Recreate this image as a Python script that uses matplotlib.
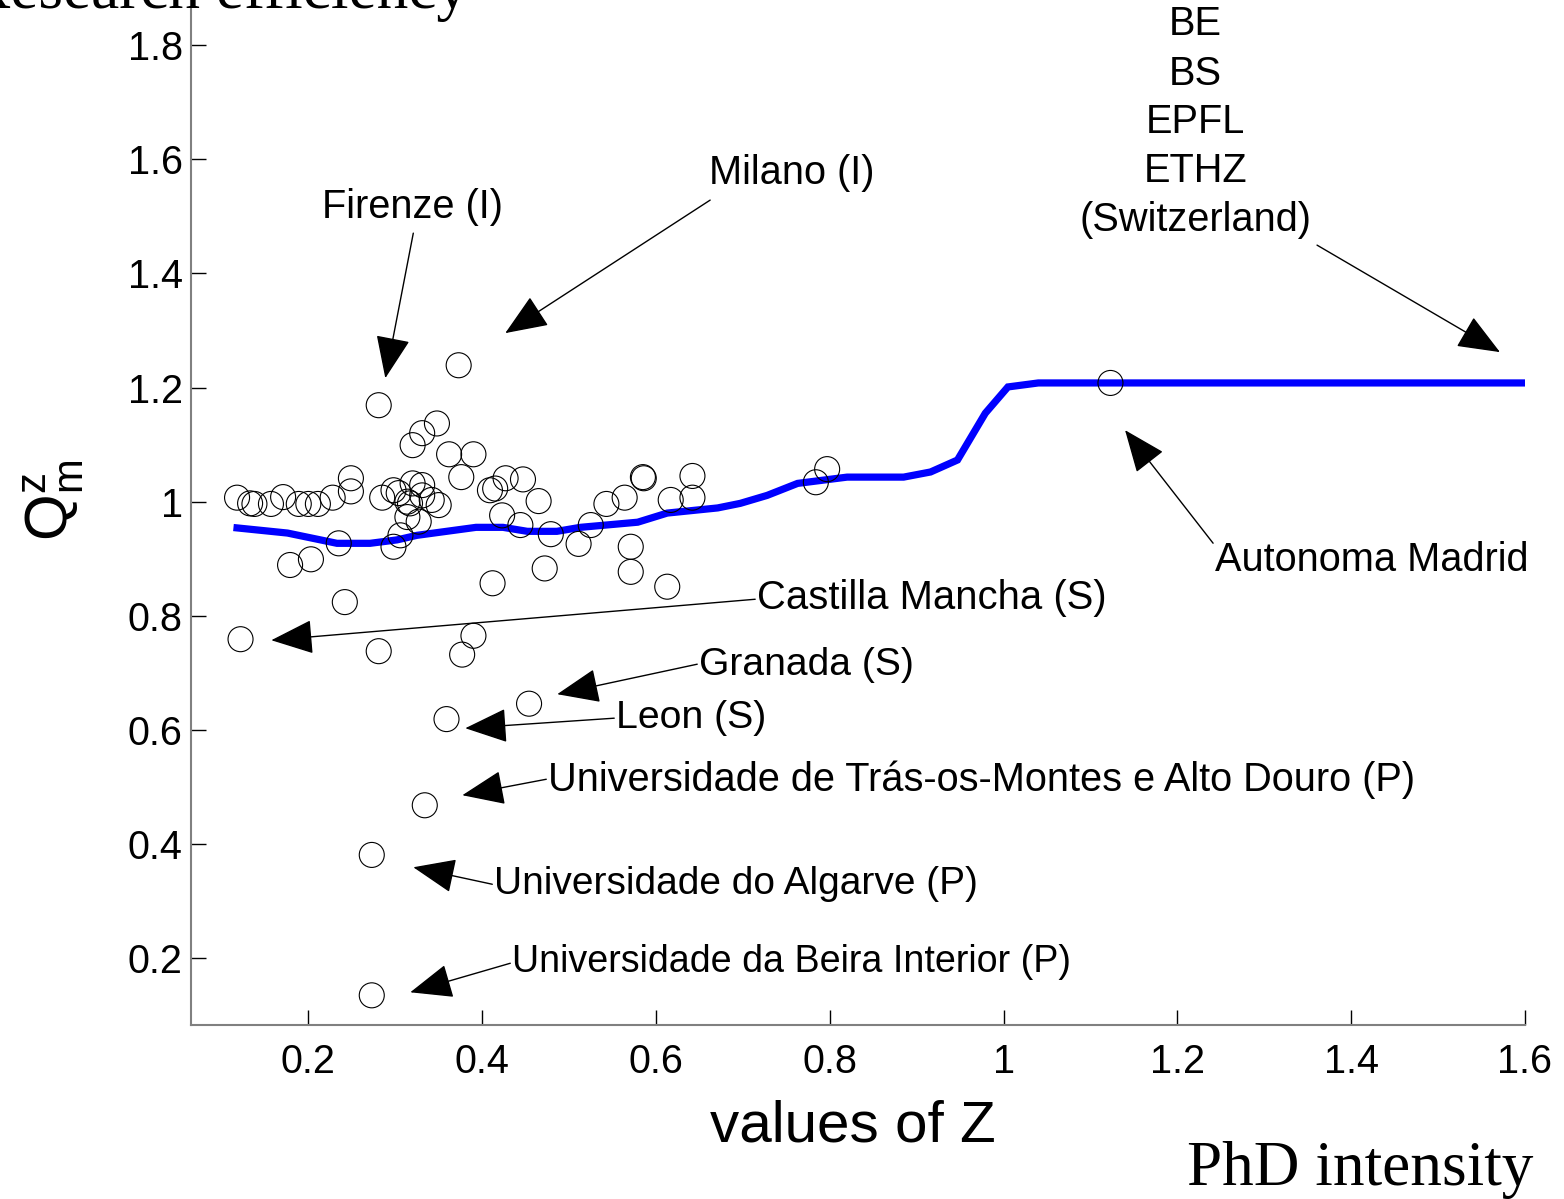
import matplotlib
matplotlib.use("Agg")
import matplotlib.pyplot as plt
from matplotlib.ticker import FuncFormatter

plt.rcParams['font.family'] = ['Liberation Sans', 'DejaVu Sans']
plt.rcParams['mathtext.default'] = 'regular'

# universities: values of Z and Q_m^z
z_vals = [0.281, 0.373, 0.348, 0.331, 0.320, 0.362, 0.390, 0.376, 0.249, 0.249,
          0.118, 0.133, 0.138, 0.157, 0.171, 0.189, 0.200, 0.211, 0.228, 0.285,
          0.298, 0.304, 0.320, 0.331, 0.314, 0.317, 0.331, 0.342, 0.350, 0.314,
          0.327, 0.306, 0.298, 0.235, 0.179, 0.203, 0.427, 0.447, 0.409, 0.415,
          0.465, 0.423, 0.444, 0.479, 0.511, 0.525, 0.543, 0.564, 0.585, 0.586,
          0.617, 0.642, 0.642, 0.571, 0.571, 0.472, 0.412, 0.613, 0.242, 0.122,
          0.281, 0.390, 0.377, 0.454, 0.359, 0.334, 0.273, 0.273, 0.784, 0.797,
          1.123]
q_vals = [1.169, 1.239, 1.137, 1.120, 1.099, 1.083, 1.083, 1.043, 1.041, 1.018,
          1.007, 0.997, 0.996, 0.996, 1.008, 0.996, 0.996, 0.996, 1.007, 1.007,
          1.020, 1.015, 1.032, 1.029, 1.000, 0.997, 1.011, 1.003, 0.994, 0.973,
          0.965, 0.941, 0.921, 0.927, 0.889, 0.899, 1.041, 1.039, 1.020, 1.023,
          1.001, 0.976, 0.959, 0.943, 0.926, 0.959, 0.996, 1.007, 1.043, 1.041,
          1.003, 1.045, 1.007, 0.921, 0.877, 0.883, 0.857, 0.851, 0.824, 0.759,
          0.738, 0.765, 0.732, 0.646, 0.619, 0.468, 0.381, 0.135, 1.034, 1.057,
          1.208]

# smoothed curve
curve_z = [0.118, 0.176, 0.233, 0.271, 0.302, 0.325, 0.393, 0.424, 0.452, 0.486,
           0.513, 0.579, 0.613, 0.671, 0.697, 0.728, 0.763, 0.820, 0.885, 0.916,
           0.947, 0.979, 1.005, 1.040, 1.600]
curve_q = [0.954, 0.945, 0.927, 0.927, 0.933, 0.941, 0.955, 0.955, 0.948, 0.948,
           0.955, 0.964, 0.980, 0.989, 0.997, 1.011, 1.032, 1.043, 1.043, 1.052,
           1.073, 1.155, 1.201, 1.208, 1.208]

# annotations: text, text anchor, ha, arrow tail, arrow tip, font size
notes = [
    ('Firenze (I)', (0.3196, 1.516), 'center', (0.3208, 1.4705), (0.2886, 1.2164), 28.6),
    ('Milano (I)', (0.7568, 1.5757), 'center', (0.6624, 1.5284), (0.4266, 1.2953), 28.6),
    ('Autonoma Madrid', (1.424, 0.8974), 'center', (1.2411, 0.9272), (1.1398, 1.1253), 28.6),
    ('Castilla Mancha (S)', (0.7165, 0.8309), 'left', (0.7142, 0.829), (0.1574, 0.7572), 28.8),
    ('Granada (S)', (0.6498, 0.7134), 'left', (0.6475, 0.7152), (0.4864, 0.6626), 28.1),
    ('Leon (S)', (0.5543, 0.6206), 'left', (0.552, 0.6206), (0.3806, 0.603), 28.3),
    ('Universidade de Trás-os-Montes e Alto Douro (P)', (0.4761, 0.5136), 'left',
     (0.4738, 0.5136), (0.3772, 0.4856), 28.6),
    ('Universidade do Algarve (P)', (0.414, 0.3296), 'left', (0.4117, 0.3296), (0.3208, 0.3594), 28.0),
    ('Universidade da Beira Interior (P)', (0.4347, 0.1929), 'left', (0.4324, 0.1912), (0.3173, 0.1403), 27.1),
]
swiss_lines = ['BE', 'BS', 'EPFL', 'ETHZ', '(Switzerland)']

fig = plt.figure(figsize=(15.64, 11.99), dpi=100)
ax = fig.add_axes([191 / 1564, 1 - 1025 / 1199, 1334 / 1564, 1025 / 1199])

ax.plot(curve_z, curve_q, color='#0000ff', lw=5.2, solid_joinstyle='miter', zorder=2)
ax.scatter(z_vals, q_vals, s=18 ** 2, facecolors='none', edgecolors='black',
           linewidths=0.8, zorder=3)

ax.set_xlim(0.065, 1.6)
ax.set_ylim(0.083, 1.879)
ax.set_xticks([0.2, 0.4, 0.6, 0.8, 1.0, 1.2, 1.4, 1.6])
ax.set_yticks([0.2, 0.4, 0.6, 0.8, 1.0, 1.2, 1.4, 1.6, 1.8])
fmt = FuncFormatter(lambda v, p: '%g' % round(v, 2))
ax.xaxis.set_major_formatter(fmt)
ax.yaxis.set_major_formatter(fmt)
ax.tick_params(direction='in', length=11, width=1, labelsize=28.5, color='black')
ax.tick_params(axis='x', pad=13)
ax.tick_params(axis='y', pad=6)
for s in ['top', 'right']:
    ax.spines[s].set_visible(False)
for s in ['left', 'bottom']:
    ax.spines[s].set_color('0.5')
    ax.spines[s].set_linewidth(1.5)

ax.set_xlabel('values of Z', fontsize=42, va='baseline')
ax.xaxis.set_label_coords(0.4963, -0.1141)
ax.set_ylabel(r'$Q^{z}_{m}$', fontsize=43, va='baseline', rotation_mode='anchor')
ax.yaxis.set_label_coords(-0.0922, 0.512)

arrow = dict(arrowstyle='-|>,head_length=1.35,head_width=0.55', color='black',
             lw=1, shrinkA=0, shrinkB=0, mutation_scale=20)
for label, pos, ha, tail, tip, size in notes:
    ax.text(pos[0], pos[1], label, fontsize=size, ha=ha, va='center')
    ax.annotate('', xy=tip, xytext=tail, arrowprops=arrow)

swiss_base = [1.8175, 1.7299, 1.6458, 1.5599, 1.474]
for line, yb in zip(swiss_lines, swiss_base):
    ax.text(1.2204, yb, line, fontsize=28.6, ha='center', va='baseline')
ax.annotate('', xy=(1.5712, 1.262), xytext=(1.3607, 1.4495), arrowprops=arrow)

fig.text(1533 / 1564, 1 - 1185 / 1199, 'PhD intensity', fontsize=45.5,
         family='Liberation Serif', ha='right', va='baseline')
fig.text(468 / 1564, 1 - 8 / 1199, 'Research efficiency', fontsize=45.5,
         family='Liberation Serif', ha='right', va='baseline')

fig.savefig('out.png', dpi=100)
